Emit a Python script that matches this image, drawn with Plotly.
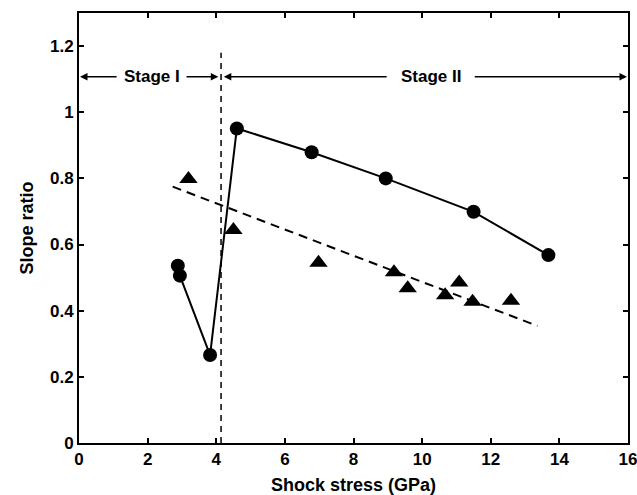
import plotly.graph_objects as go

# Circles (connected, solid line)
circ_x = [2.88, 2.94, 3.82, 4.60, 6.78, 8.94, 11.50, 13.68]
circ_y = [0.536, 0.506, 0.266, 0.951, 0.879, 0.800, 0.699, 0.568]

# Triangles (scatter)
tri_x = [3.19, 4.50, 6.98, 9.18, 9.58, 10.67, 11.08, 11.47, 12.59]
tri_y = [0.798, 0.644, 0.545, 0.516, 0.468, 0.447, 0.485, 0.427, 0.430]

# Dashed linear fit
fit_x = [2.73, 13.36]
fit_y = [0.775, 0.354]

# Stage boundary
boundary_x = 4.14
boundary_y = [0.0, 1.18]
stage_y = 1.107

x_ticks = [0, 2, 4, 6, 8, 10, 12, 14, 16]
y_ticks = [0, 0.2, 0.4, 0.6, 0.8, 1.0, 1.2]

FONT = "Liberation Sans"

fig = go.Figure()
fig.add_trace(go.Scatter(x=[boundary_x, boundary_x], y=boundary_y, mode="lines",
                         line=dict(color="black", width=1.5, dash="6px,5px"), showlegend=False))
fig.add_trace(go.Scatter(x=fit_x, y=fit_y, mode="lines",
                         line=dict(color="black", width=2, dash="9px,6px"), showlegend=False))
fig.add_trace(go.Scatter(x=circ_x, y=circ_y, mode="lines+markers",
                         line=dict(color="black", width=2),
                         marker=dict(symbol="circle", size=14, color="black"), showlegend=False))
fig.add_trace(go.Scatter(x=tri_x, y=tri_y, mode="markers",
                         marker=dict(symbol="triangle-up", size=16, color="black"), showlegend=False))

def arrow(x_head, x_tail):
    fig.add_annotation(x=x_head, y=stage_y, ax=x_tail, ay=stage_y, xref="x", yref="y",
                       axref="x", ayref="y", text="", showarrow=True, arrowhead=2,
                       arrowsize=1, arrowwidth=1.5, arrowcolor="black")

arrow(0.03, 1.14)
arrow(4.06, 3.09)
arrow(4.22, 9.01)
arrow(15.97, 11.49)

label_font = dict(family=FONT, size=17, color="black", weight="bold")
fig.add_annotation(x=2.12, y=stage_y, text="Stage I", showarrow=False, font=label_font)
fig.add_annotation(x=10.26, y=stage_y, text="Stage II", showarrow=False, font=label_font)

axis_common = dict(showgrid=False, zeroline=False, showline=True, linecolor="black",
                   linewidth=2, mirror="ticks", ticks="inside", ticklen=5, tickwidth=1.5,
                   tickcolor="black", automargin=False, ticklabeloverflow="allow",
                   tickfont=dict(family=FONT, size=17, color="black", weight="bold"))

title_font = dict(family=FONT, size=18, color="black", weight="bold")
fig.update_xaxes(range=[0, 16], tickvals=x_ticks,
                 title=dict(text="Shock stress (GPa)", font=title_font, standoff=13), **axis_common)
fig.update_yaxes(range=[0, 1.3], tickvals=y_ticks,
                 title=dict(text="Slope ratio", font=title_font, standoff=12), **axis_common)
fig.update_layout(width=637, height=495, margin=dict(l=79, r=9, t=13, b=52),
                  plot_bgcolor="white", paper_bgcolor="white",
                  font=dict(family=FONT, color="black"))

fig.write_html("out.html", config={"displayModeBar": False},
               post_script="document.body.style.margin='0';document.body.style.overflow='hidden';")
